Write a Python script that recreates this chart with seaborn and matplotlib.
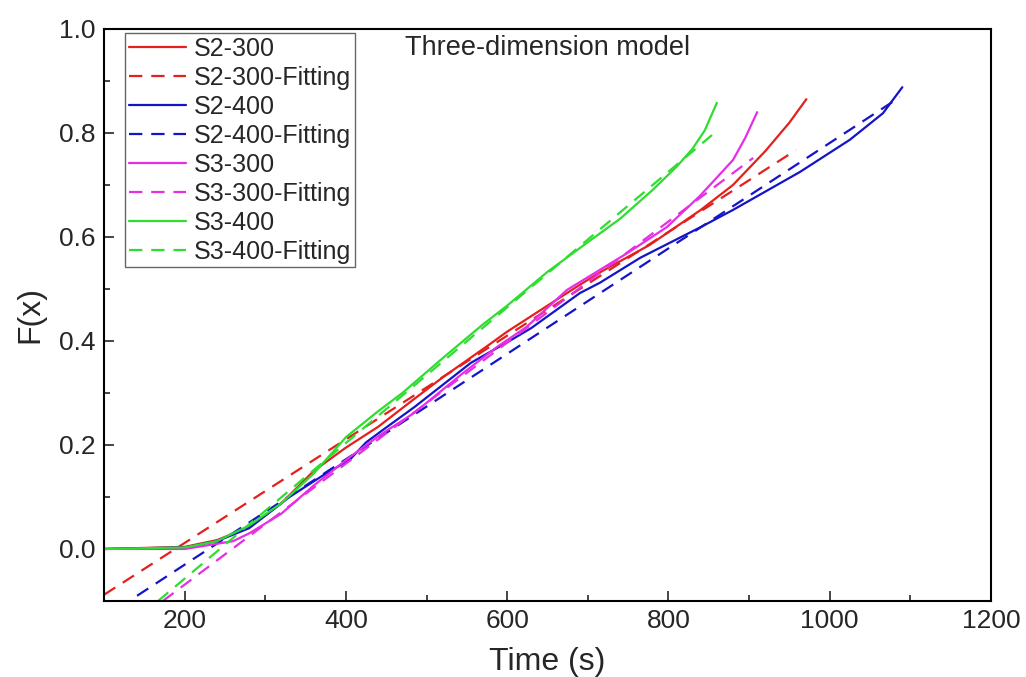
import matplotlib
matplotlib.use("Agg")
import matplotlib.pyplot as plt
import seaborn as sns
import pandas as pd
from matplotlib.ticker import MultipleLocator

# ---- data ----
s2_300_x = [100, 200, 240, 280, 320, 360, 400, 440, 480, 520, 575, 600, 650, 690, 715, 777, 840, 880, 920, 950, 971]
s2_300_y = [0, 0.004, 0.017, 0.042, 0.088, 0.15, 0.195, 0.235, 0.283, 0.33, 0.39, 0.418, 0.468, 0.508, 0.532, 0.585, 0.652, 0.70, 0.765, 0.82, 0.865]

s2_400_x = [100, 200, 240, 280, 330, 370, 405, 425, 445, 485, 555, 605, 630, 690, 715, 765, 840, 880, 963, 1025, 1066, 1090]
s2_400_y = [0, 0.003, 0.015, 0.04, 0.10, 0.14, 0.172, 0.205, 0.228, 0.273, 0.358, 0.402, 0.425, 0.492, 0.512, 0.56, 0.619, 0.652, 0.725, 0.787, 0.838, 0.888]

s3_300_x = [100, 200, 260, 280, 320, 360, 405, 445, 485, 545, 587, 624, 674, 749, 798, 839, 880, 895, 910]
s3_300_y = [0, 0.0, 0.015, 0.03, 0.068, 0.122, 0.177, 0.222, 0.262, 0.338, 0.388, 0.427, 0.498, 0.569, 0.619, 0.679, 0.748, 0.79, 0.84]

s3_400_x = [100, 200, 240, 280, 320, 360, 400, 440, 470, 520, 570, 600, 650, 700, 740, 780, 810, 830, 845, 860]
s3_400_y = [0, 0.003, 0.015, 0.045, 0.088, 0.145, 0.215, 0.265, 0.30, 0.367, 0.432, 0.468, 0.533, 0.59, 0.635, 0.69, 0.735, 0.77, 0.805, 0.858]

# linear fits (end points)
s2_300_fit_x = [100, 958]
s2_300_fit_y = [-0.088, 0.767]
s2_400_fit_x = [141, 1087]
s2_400_fit_y = [-0.09, 0.869]
s3_300_fit_x = [173, 905]
s3_300_fit_y = [-0.10, 0.752]
s3_400_fit_x = [167, 854]
s3_400_fit_y = [-0.10, 0.796]

series = [
    ("S2-300", s2_300_x, s2_300_y, "#e3201c", "-"),
    ("S2-300-Fitting", s2_300_fit_x, s2_300_fit_y, "#e3201c", "--"),
    ("S2-400", s2_400_x, s2_400_y, "#1414c8", "-"),
    ("S2-400-Fitting", s2_400_fit_x, s2_400_fit_y, "#1414c8", "--"),
    ("S3-300", s3_300_x, s3_300_y, "#e62ee6", "-"),
    ("S3-300-Fitting", s3_300_fit_x, s3_300_fit_y, "#e62ee6", "--"),
    ("S3-400", s3_400_x, s3_400_y, "#2ede2e", "-"),
    ("S3-400-Fitting", s3_400_fit_x, s3_400_fit_y, "#2ede2e", "--"),
]

sns.set_style("ticks")
plt.rcParams["font.family"] = ["Liberation Sans", "DejaVu Sans"]

fig = plt.figure(figsize=(10.26, 6.77), dpi=100)
ax = fig.add_axes([0.1014, 0.1123, 0.8645, 0.8449])

for name, xs, ys, col, ls in series:
    df = pd.DataFrame({"x": xs, "y": ys})
    sns.lineplot(data=df, x="x", y="y", ax=ax, color=col, label=name,
                 linewidth=1.6, sort=False)
    l = ax.get_lines()[-1]
    if ls == "--":
        l.set_dashes((6, 4))

ax.set_xlim(100, 1200)
ax.set_ylim(-0.1, 1.0)
ax.xaxis.set_major_locator(MultipleLocator(200))
ax.xaxis.set_minor_locator(MultipleLocator(100))
ax.yaxis.set_major_locator(MultipleLocator(0.2))
ax.yaxis.set_minor_locator(MultipleLocator(0.1))
ax.tick_params(which="major", direction="in", length=7, width=1.2, labelsize=19,
               top=False, right=False, pad=6)
ax.tick_params(which="minor", direction="in", length=4, width=1.2, top=False, right=False)
ax.set_xticks([200, 400, 600, 800, 1000, 1200])
ax.set_yticks([0.0, 0.2, 0.4, 0.6, 0.8, 1.0])
ax.set_yticklabels(["0.0", "0.2", "0.4", "0.6", "0.8", "1.0"])
for sp in ax.spines.values():
    sp.set_visible(True)
    sp.set_linewidth(1.5)
    sp.set_color("black")

ax.set_xlabel("Time (s)", fontsize=23, labelpad=10)
ax.set_ylabel("F(x)", fontsize=23, labelpad=10)

ax.text(0.339, 0.967, "Three-dimension model", transform=ax.transAxes,
        fontsize=19.5, ha="left", va="center")

leg = ax.legend(loc="upper left", bbox_to_anchor=(0.0237, 0.993), borderaxespad=0,
                fontsize=18, frameon=True, fancybox=False, framealpha=1,
                edgecolor="#666666", handlelength=2.3, handletextpad=0.3,
                labelspacing=0.2, borderpad=0.15)
leg.get_frame().set_linewidth(1.0)

fig.savefig("out.png", dpi=100)
